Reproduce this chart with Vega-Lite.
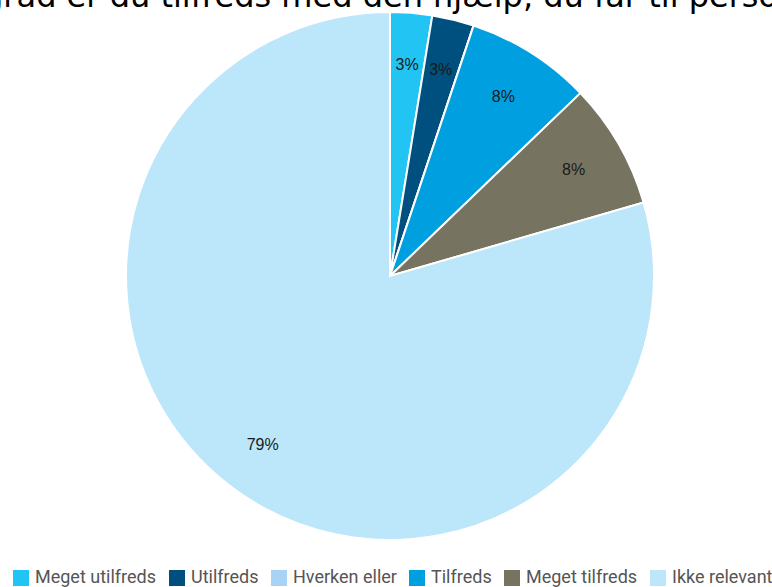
{
  "$schema": "https://vega.github.io/schema/vega-lite/v6.json",
  "width": 772,
  "height": 546,
  "autosize": "none",
  "padding": {"left": 4, "top": 3, "right": 0, "bottom": 38},
  "background": "white",
  "title": {
    "text": "I hvilken grad er du tilfreds med den hjælp, du får til personlig pleje?",
    "font": "DejaVu Sans",
    "fontSize": 32,
    "fontWeight": "normal",
    "color": "#000000",
    "anchor": "middle",
    "baseline": "alphabetic",
    "offset": -36
  },
  "data": {
    "values": [
      {"svar": "Meget utilfreds", "antal": 1, "pct": "3%", "orden": 1},
      {"svar": "Utilfreds", "antal": 1, "pct": "3%", "orden": 2},
      {"svar": "Hverken eller", "antal": 0, "pct": "0%", "orden": 3},
      {"svar": "Tilfreds", "antal": 3, "pct": "8%", "orden": 4},
      {"svar": "Meget tilfreds", "antal": 3, "pct": "8%", "orden": 5},
      {"svar": "Ikke relevant", "antal": 31, "pct": "79%", "orden": 6}
    ]
  },
  "encoding": {
    "theta": {"field": "antal", "type": "quantitative", "stack": true},
    "order": {"field": "orden", "type": "quantitative"}
  },
  "layer": [
    {
      "mark": {"type": "arc", "outerRadius": 264, "stroke": "white", "strokeWidth": 2},
      "encoding": {
        "color": {
          "field": "svar",
          "type": "nominal",
          "sort": ["Meget utilfreds", "Utilfreds", "Hverken eller", "Tilfreds", "Meget tilfreds", "Ikke relevant"],
          "scale": {
            "domain": ["Meget utilfreds", "Utilfreds", "Hverken eller", "Tilfreds", "Meget tilfreds", "Ikke relevant"],
            "range": ["#21c4f3", "#00507f", "#a9d3f5", "#009fdf", "#767460", "#bce6fa"]
          },
          "legend": {
            "orient": "none",
            "legendX": 8,
            "legendY": 566,
            "direction": "horizontal",
            "title": null,
            "padding": 0,
            "symbolType": "square",
            "symbolSize": 256,
            "symbolStrokeWidth": 0,
            "labelFont": "Roboto",
            "labelFontSize": 18,
            "labelColor": "#555555",
            "labelOffset": 5,
            "columnPadding": 11,
            "labelLimit": 300
          }
        }
      }
    },
    {
      "transform": [{"filter": "datum.antal > 0"}],
      "mark": {"type": "text", "radius": 212, "font": "Liberation Sans", "fontSize": 16, "color": "#1a1a1a"},
      "encoding": {
        "text": {"field": "pct", "type": "nominal"}
      }
    }
  ]
}
